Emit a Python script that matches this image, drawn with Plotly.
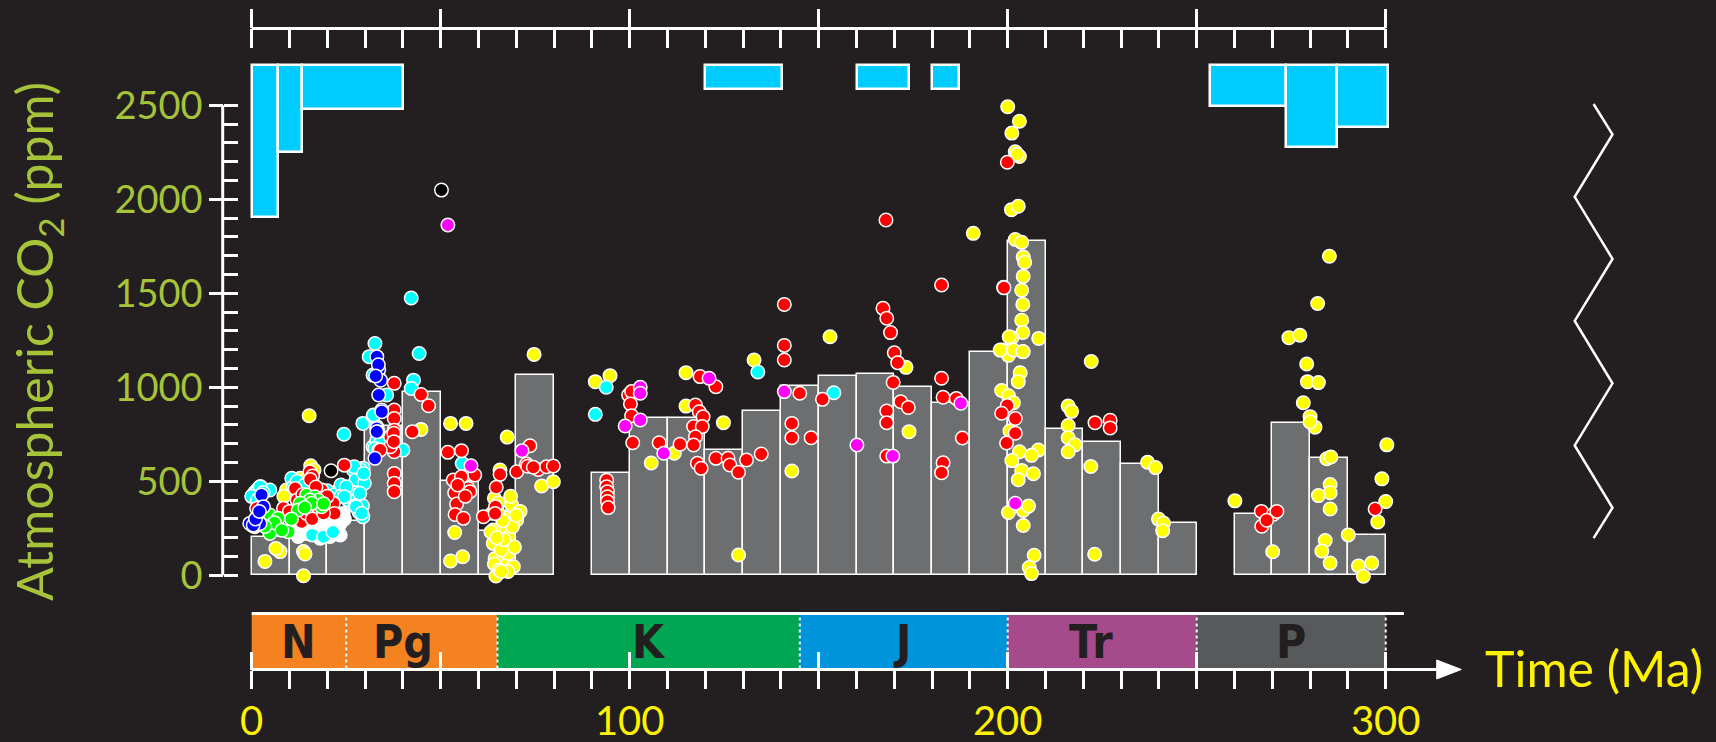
import plotly.graph_objects as go

# ---------------- data ----------------
# 10-Myr bin averages (grey histogram)
bin_start = [0, 10, 20, 30, 40, 50, 60, 70, 90, 100, 110, 120, 130, 140, 150, 160, 170, 180, 190,
             200, 210, 220, 230, 240, 260, 270, 280, 290]
bin_co2 = [205, 230, 290, 794, 977, 504, 238, 1067, 546, 835, 835, 665, 876, 1007, 1062, 1069, 1004, 915, 1190,
           1776, 779, 710, 593, 277, 325, 809, 624, 215]
bin_width = 10

# cyan glaciation boxes (top strip)
glac_start = [0, 7, 13.4, 120, 160, 180, 253.5, 273.6, 287.2]
glac_end = [7, 13.4, 40, 140.4, 173.8, 187.1, 273.6, 287.2, 300.5]
glac_low = [1904, 2250, 2480, 2589, 2589, 2589, 2495, 2278, 2387]
glac_top = 2713

# proxy points by colour
yellow_age = [2.4, 1.5, 9.2, 12.8, 15.6, 14.1, 12.3, 15.2, 3.5, 7.5, 6.4, 13.7, 14.1, 13.7, 8.5, 16.5, 0.8,
              44.8, 52.6, 56.7, 53.7, 52.6, 55.8, 67.6, 74.7, 76.7, 79.8, 65.7, 64.2, 65.3, 68.8, 66.6, 70.1,
              66.6, 63.9, 63.9, 67.0, 64.4, 67.4, 64.6, 69.2, 67.9, 65.2, 68.0, 66.0, 64.2, 69.0, 71.0, 65.5,
              67.8, 70.0, 63.3, 63.6, 66.4, 68.5, 66.7, 69.5, 64.8, 66.0,
              90.9, 94.8, 105.7, 111.8, 114.9, 114.9, 124.8, 128.8, 132.9, 142.9, 153.0, 173.1, 173.9, 190.9,
              200.0, 203.1, 201.1, 202.0, 203.1, 202.5, 201.0, 202.8, 202.0, 203.7, 204.1, 204.5, 204.1, 203.7,
              204.0, 203.7, 204.0, 201.1, 208.2, 204.1, 198.8, 200.2, 201.5, 203.3, 202.8, 198.4, 200.2, 201.5,
              200.6, 203.1, 208.1, 206.3, 201.1, 203.7, 206.8, 202.8, 200.2, 204.1, 205.5, 204.1, 207.0, 205.7,
              206.3, 198.0, 204.0, 200.4,
              222.1, 216.0, 216.9, 216.0, 216.0, 217.8, 216.0, 222.0, 223.0, 237.0, 239.1, 239.9, 241.2, 241.0,
              260.1, 270.1, 285.1, 282.0, 274.4, 277.3, 279.1, 279.3, 282.2, 278.2, 280.0, 281.3, 280.0,
              284.4, 285.5, 285.3, 285.3, 282.2, 285.3, 290.1, 284.0, 283.1, 285.3, 292.8, 294.1, 296.3,
              300.3, 299.0, 300.0, 297.9]
yellow_co2 = [471, 455, 454, 516, 583, 507, 470, 849, 74, 126, 143, 126, 113, -2, 420, 560, 440,
              776, 808, 808, 228, 76, 99, 735, 1175, 475, 498, 560, 410, 385, 374, 311, 294,
              250, 241, 170, 161, 90, 54, -4, 46, 116, 330, 205, 135, 60, 260, 340, 28,
              20, 320, 230, 330, 290, 420, 190, 150, 200, 20,
              1030, 1062, 597, 649, 1078, 900, 812, 108, 1145, 555, 1269, 1106, 764, 1819,
              2492, 2415, 2352, 2253, 2228, 2240, 1945, 1963, 1786, 1771, 1693, 1665, 1590, 1516,
              1441, 1357, 1292, 1264, 1260, 1189, 1198, 1170, 1198, 1077, 1030, 983, 955, 918,
              769, 657, 666, 638, 610, 558, 540, 508, 334, 345, 368, 265, 107, 41,
              9, 1198, 1190, 1269,
              1137, 900, 872, 797, 732, 694, 657, 579, 112, 601, 573, 299, 278, 237,
              396, 125, 1697, 1446, 1264, 1277, 1124, 1030, 1025, 918, 844, 788, 816,
              620, 629, 483, 439, 424, 353, 215, 185, 129, 65, 50, -5, 65,
              694, 513, 392, 284]

white_age = [12.8, 14.5, 17.2, 19.8, 22.5, 23.4, 24.2, 16.3, 18.9, 21.6, 14.5, 11.0, 12.3, 20.7, 23.4, 18.1,
             0.2, 0.8, 1.2, 15.5, 17.7, 20.5, 22.8, 13.5, 24.5, 22.0]
white_co2 = [241, 223, 214, 223, 232, 276, 329, 259, 259, 259, 276, 232, 206, 206, 214, 197,
             265, 258, 270, 240, 230, 240, 250, 250, 300, 290]

cyan_age = [0.9, 4.8, 2.2, 10.6, 11.0, 23.4, 13.2, 24.4, 0.0, 1.5, 3.0, 12.0, 14.0, 20.0, 22.0, 24.0,
            26.9, 29.5, 27.6, 29.8, 28.8, 23.6, 23.6, 26.7, 28.0, 29.3, 28.4, 25.5, 27.4, 29.4, 29.4, 27.1,
            29.6, 28.6, 27.6, 29.1, 25.0, 24.5, 16.0, 19.0, 21.5,
            32.6, 31.1, 32.1, 35.7, 32.1, 33.1, 32.1, 33.1, 32.2, 34.0, 32.6, 40.0, 44.3, 42.8, 42.2, 42.2,
            55.7, 93.8, 90.9, 133.9, 154.0]
cyan_co2 = [436, 454, 471, 516, 471, 462, 321, 750, 420, 400, 440, 500, 480, 450, 430, 420,
            560, 570, 510, 490, 560, 480, 420, 440, 390, 370, 335, 400, 370, 312, 808, 578,
            542, 436, 365, 330, 471, 418, 215, 205, 230,
            1233, 1163, 1065, 959, 843, 790, 684, 719, 853, 702, 675, 666, 1180, 1038, 994, 1475,
            595, 1000, 856, 1081, 971]

red_age = [15.4, 16.1, 11.5, 18.5, 18.9, 14.1, 15.0, 8.4, 1.3, 13.2, 14.5, 18.1, 21.6, 24.5, 21.9, 15.5,
           17.0, 20.0, 12.0, 10.0, 3.0, 16.0, 19.0, 13.5,
           37.7, 37.7, 37.7, 37.7, 37.7, 37.7, 37.7, 37.7, 37.7, 36.7, 36.7, 33.6, 34.0, 37.6, 37.6,
           44.8, 46.8, 42.5,
           51.9, 55.5, 53.3, 55.5, 57.3, 53.7, 54.2, 53.8, 56.0, 57.7, 59.0, 54.5, 56.5, 61.3,
           65.7, 64.7, 64.5, 64.4, 73.6, 70.1, 72.7, 75.8, 78.0, 79.8, 73.0, 74.5,
           93.9, 93.9, 94.1, 94.1, 94.1, 94.3, 99.7, 100.5, 100.2, 100.5, 100.8, 107.8, 113.3, 118.6, 122.8,
           117.4, 118.4, 119.4, 116.9, 119.2, 117.4, 116.9, 117.9, 118.9, 122.8, 126.0, 126.5, 128.8, 130.9,
           134.8, 140.9, 140.9, 140.9, 145.0, 142.9, 142.9, 148.0, 151.0, 167.0, 168.0, 169.0, 170.0, 170.9,
           169.7, 171.7, 173.7, 168.0, 168.0, 168.0, 182.5, 182.5, 182.9, 186.4, 188.0, 182.9, 182.5, 167.8,
           198.9,
           199.9, 199.0, 199.9, 202.0, 202.0, 199.7, 198.4,
           223.1, 227.1, 227.1,
           267.1, 270.3, 271.2, 267.2, 268.5, 297.2]
red_co2 = [551, 528, 462, 454, 400, 400, 400, 356, 356, 285, 329, 347, 383, 586, 329, 510,
           470, 420, 400, 340, 330, 300, 330, 430,
           1021, 879, 834, 772, 719, 657, 542, 489, 445, 737, 684, 666, 666, 755, 711,
           962, 902, 764,
           654, 663, 507, 524, 462, 439, 379, 324, 303, 445, 533, 480, 420, 312,
           537, 468, 365, 329, 689, 551, 592, 563, 577, 581, 580, 575,
           506, 471, 445, 418, 392, 360, 959, 977, 911, 849, 705, 705, 697, 1057, 1003,
           906, 870, 844, 791, 791, 737, 693, 596, 569, 622, 622, 587, 548, 613,
           645, 1441, 1223, 1145, 968, 808, 732, 732, 936, 1420, 1367, 1291, 1184, 1131,
           1026, 923, 893, 874, 812, 634, 1544, 1048, 947, 941, 730, 599, 546, 1890,
           1532,
           2197, 1529, 903, 834, 756, 704, 862,
           812, 825, 784,
           340, 325, 340, 261, 293, 353]

green_age = [4.8, 7.0, 9.7, 4.8, 14.5, 16.7, 17.6, 18.5, 15.4, 12.8, 12.3, 15.9, 6.0, 3.5, 8.0, 10.5, 14.0, 19.0]
green_co2 = [321, 303, 232, 223, 427, 418, 400, 365, 400, 383, 347, 383, 280, 260, 240, 300, 360, 380]

blue_age = [2.6, 3.1, 2.2, -0.5, 0.4, 1.0, 2.0, 33.1, 33.6, 34.1, 33.6, 34.4, 33.1, 33.4, 32.6, 34.4, 33.1,
            33.5, 32.8]
blue_co2 = [427, 365, 276, 276, 267, 300, 340, 1163, 1092, 1038, 959, 879, 781, 764, 622, 870, 764,
            1120, 1060]

magenta_age = [51.9, 58.0, 71.5, 102.8, 102.8, 98.8, 102.8, 109.0, 121.0, 140.9, 160.1, 169.6, 187.6, 202.0]
magenta_co2 = [1863, 583, 663, 1000, 968, 794, 826, 649, 1048, 977, 693, 634, 915, 383]

black_age = [50.2, 21.0]
black_co2 = [2049, 556]

# geologic time scale
period_names = ["N", "Pg", "K", "J", "Tr", "P"]
period_start = [0, 25, 65, 145, 200, 250]
period_end = [25, 65, 145, 200, 250, 300]
period_label_x = [12.5, 40, 105, 172, 222, 275]
period_colors = ["#f58220", "#f58220", "#00a651", "#0095da", "#a54a8b", "#58595b"]

# axis ticks
co2_major = [0, 500, 1000, 1500, 2000, 2500]
co2_minor = list(range(0, 2501, 100))
age_minor = list(range(0, 301, 10))
age_major = list(range(0, 301, 50))
age_labels = [0, 100, 200, 300]

# break symbol on the right
zig_x = [355, 360, 350, 360, 350, 360, 350, 360, 355]
zig_y = [2507, 2345, 2013, 1683, 1353, 1021, 691, 359, 198]

# ---------------- layout constants ----------------
W, H = 1716, 742
BG = "#231f20"
LIME = "#a6c33a"
YEL = "#fff200"
X0_PX, PX_PER_MA = 251.7, 3.78
Y0_PX, PX_PER_PPM = 575.3, 0.188
x_range = [(0 - X0_PX) / PX_PER_MA, (W - X0_PX) / PX_PER_MA]
y_range = [(Y0_PX - H) / PX_PER_PPM, (Y0_PX - 0) / PX_PER_PPM]


def py(p):  # pixel row -> paper fraction
    return 1 - p / H


def pxp(p):  # pixel column -> paper fraction
    return p / W


FONT = "Lato, 'Open Sans', sans-serif"

fig = go.Figure()

# grey bins
fig.add_trace(go.Bar(
    x=[s + bin_width / 2 for s in bin_start], y=bin_co2, width=[bin_width] * len(bin_start),
    marker=dict(color="#6d6e70", line=dict(color="white", width=1.5)),
    hoverinfo="skip", showlegend=False))

# cyan glaciation boxes
fig.add_trace(go.Bar(
    x=[(s + e) / 2 for s, e in zip(glac_start, glac_end)],
    width=[e - s for s, e in zip(glac_start, glac_end)],
    base=glac_low, y=[glac_top - b for b in glac_low],
    marker=dict(color="#00ccff", line=dict(color="white", width=2.5)),
    hoverinfo="skip", showlegend=False))


def pts(ax, ay, col):
    fig.add_trace(go.Scatter(
        x=ax, y=ay, mode="markers",
        marker=dict(size=13.5, color=col, line=dict(color="white", width=1.5)),
        hoverinfo="skip", showlegend=False))


pts(yellow_age, yellow_co2, "#ffff00")
pts(white_age, white_co2, "#ffffff")
pts(cyan_age, cyan_co2, "#00ffff")
pts(red_age, red_co2, "#ff0000")
pts(green_age, green_co2, "#00ff00")
pts(blue_age, blue_co2, "#0000ff")
pts(magenta_age, magenta_co2, "#ff00ff")
pts(black_age, black_co2, "#000000")

# zigzag break
fig.add_trace(go.Scatter(x=zig_x, y=zig_y, mode="lines", line=dict(color="white", width=2.5),
                         hoverinfo="skip", showlegend=False))

# dummy traces so overlay axes render
for xa, ya in [("x2", "y"), ("x3", "y"), ("x4", "y"), ("x5", "y"), ("x6", "y"), ("x", "y2")]:
    fig.add_trace(go.Scatter(x=[0], y=[-5000], xaxis=xa, yaxis=ya, mode="markers",
                             marker=dict(opacity=0), hoverinfo="skip", showlegend=False))

shapes = []
# y axis line
shapes.append(dict(type="line", xref="paper", yref="y", x0=pxp(222.7), x1=pxp(222.7), y0=0, y1=2500,
                   line=dict(color="white", width=3)))
# top axis line
shapes.append(dict(type="line", xref="x", yref="paper", x0=0, x1=300, y0=py(28.4), y1=py(28.4),
                   line=dict(color="white", width=3)))
# time scale boxes
for s, e, c in zip(period_start, period_end, period_colors):
    shapes.append(dict(type="rect", xref="x", yref="paper", x0=s, x1=e, y0=py(668.5), y1=py(614.5),
                       fillcolor=c, line=dict(width=0), layer="below"))
for b in period_start[1:] + [period_end[-1]]:
    shapes.append(dict(type="line", xref="x", yref="paper", x0=b, x1=b, y0=py(668.5), y1=py(614.5),
                       line=dict(color="white", width=2, dash="dot")))
# time scale top line
shapes.append(dict(type="line", xref="x", yref="paper", x0=0, x1=304.8, y0=py(613.5), y1=py(613.5),
                   line=dict(color="white", width=3)))
# bottom arrow line
shapes.append(dict(type="line", xref="x", yref="paper", x0=0, x1=314, y0=py(669.5), y1=py(669.5),
                   line=dict(color="white", width=3)))
shapes.append(dict(type="path", xref="x", yref="paper",
                   path=f"M 313.5,{py(660)} L 320,{py(669.5)} L 313.5,{py(679)} Z",
                   fillcolor="white", line=dict(color="white", width=1)))

annotations = []
for name, lx in zip(period_names, period_label_x):
    annotations.append(dict(x=lx, y=py(641.5), xref="x", yref="paper", text=f"<b>{name}</b>",
                            showarrow=False, xanchor="center", yanchor="middle",
                            font=dict(family="'Liberation Sans Narrow', 'DejaVu Sans Condensed', sans-serif",
                                      size=46, color="#231f20")))
annotations.append(dict(x=pxp(1594), y=py(668), xref="paper", yref="paper", text="Time (Ma)",
                        showarrow=False, xanchor="center", yanchor="middle",
                        font=dict(family=FONT, size=50, color=YEL)))
annotations.append(dict(x=pxp(38), y=py(342), xref="paper", yref="paper",
                        text="Atmospheric CO<sub>2</sub> (ppm)", textangle=-90,
                        showarrow=False, xanchor="center", yanchor="middle",
                        font=dict(family=FONT, size=50, color=LIME)))

axis_common = dict(showgrid=False, zeroline=False, showline=False, fixedrange=True, automargin=False)

fig.update_layout(
    width=W, height=H, autosize=False,
    margin=dict(l=0, r=0, t=0, b=0, pad=0, autoexpand=False),
    paper_bgcolor=BG, plot_bgcolor=BG,
    barmode="overlay", bargap=0,
    showlegend=False,
    xaxis=dict(domain=[0, 1], range=x_range, visible=False, **axis_common),
    yaxis=dict(domain=[0, 1], range=y_range, anchor="free", position=pxp(222.7), side="left",
               ticks="outside", ticklen=13.5, tickwidth=3, tickcolor="white",
               tickmode="array", tickvals=co2_major, ticktext=[str(v) for v in co2_major],
               tickfont=dict(family=FONT, size=38, color=LIME), ticklabelstandoff=-1, **axis_common),
    yaxis2=dict(overlaying="y", domain=[0, 1], range=y_range, anchor="free", position=pxp(222.7), side="left",
                ticks="inside", ticklen=14, tickwidth=2.5, tickcolor="white",
                tickmode="array", tickvals=co2_minor, showticklabels=False, **axis_common),
    # bottom time axis: labelled ticks
    xaxis2=dict(overlaying="x", range=x_range, anchor="free", position=py(669.5), side="bottom",
                ticks="outside", ticklen=18, tickwidth=2.5, tickcolor="white",
                tickmode="array", tickvals=age_labels, ticktext=[str(v) for v in age_labels],
                tickfont=dict(family=FONT, size=40, color=YEL), ticklabelstandoff=-2, **axis_common),
    # bottom time axis: minor ticks
    xaxis6=dict(overlaying="x", range=x_range, anchor="free", position=py(669.5), side="bottom",
                ticks="outside", ticklen=18, tickwidth=2.5, tickcolor="white",
                tickmode="array", tickvals=age_minor, showticklabels=False, **axis_common),
    xaxis3=dict(overlaying="x", range=x_range, anchor="free", position=py(669.5), side="bottom",
                ticks="inside", ticklen=18, tickwidth=2.5, tickcolor="white",
                tickmode="array", tickvals=age_major, showticklabels=False, **axis_common),
    xaxis4=dict(overlaying="x", range=x_range, anchor="free", position=py(28.4), side="top",
                ticks="inside", ticklen=18.3, tickwidth=2.5, tickcolor="white",
                tickmode="array", tickvals=age_minor, showticklabels=False, **axis_common),
    xaxis5=dict(overlaying="x", range=x_range, anchor="free", position=py(28.4), side="top",
                ticks="outside", ticklen=19, tickwidth=2.5, tickcolor="white",
                tickmode="array", tickvals=age_major, showticklabels=False, **axis_common),
    shapes=shapes, annotations=annotations,
)

fig.write_html("out.html", config={"displayModeBar": False},
               post_script="document.body.style.margin='0';document.body.style.background='#231f20';")
